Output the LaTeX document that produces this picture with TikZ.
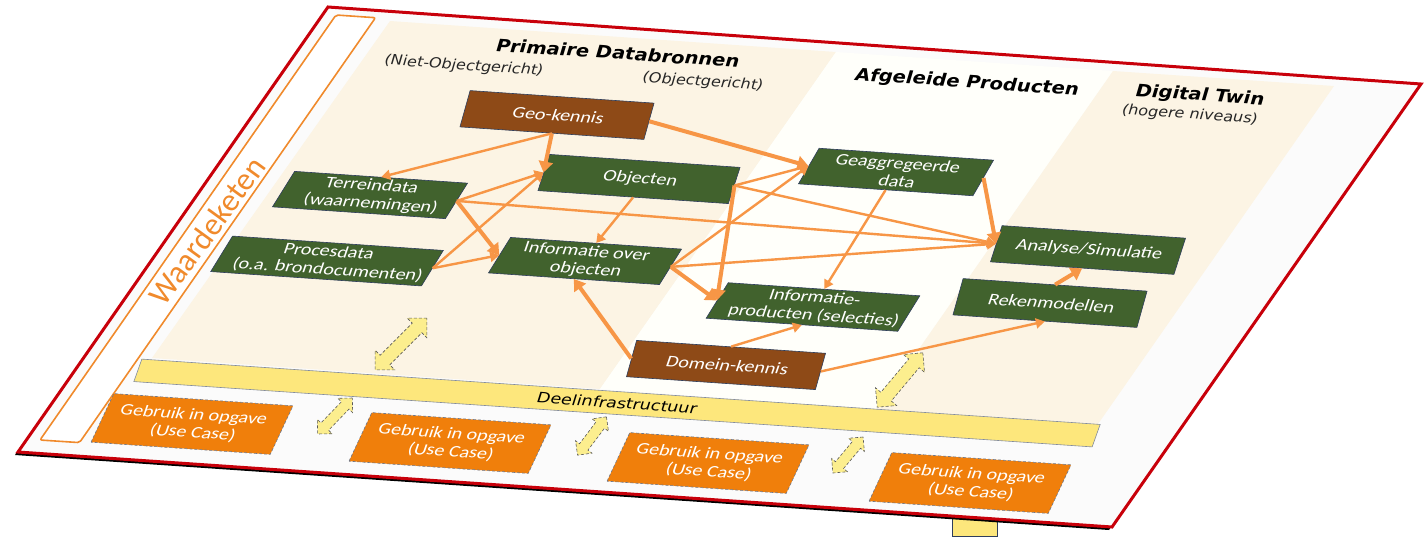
\documentclass[tikz,border=0pt]{standalone}
\usepackage{fontspec}
\setmainfont{Carlito}[ItalicFont=Carlito, ItalicFeatures={FakeSlant=0.22}]
\newfontfamily\kopfont{DejaVu Sans}
\usetikzlibrary{shapes.geometric,shapes.arrows,arrows.meta}

\definecolor{groen}{HTML}{41622D}
\definecolor{bruin}{HTML}{8E4A17}
\definecolor{oranje}{HTML}{F07F0B}
\definecolor{pijlkleur}{HTML}{F79646}
\definecolor{geel}{HTML}{FDE77C}
\definecolor{lichtgeel}{HTML}{FCEE8E}
\definecolor{beige}{HTML}{FCF4E4}
\definecolor{rand}{HTML}{2F3E5C}
\definecolor{rood}{HTML}{C8000A}
\definecolor{ketenkleur}{HTML}{F08A2C}

\tikzset{
  vlak/.style={trapezium, trapezium left angle=64.5, trapezium right angle=115.5,
    trapezium stretches body, rotate=-3.9, yscale=0.82, align=center},
  blok/.style={vlak, draw=rand, line width=0.6pt, text=white, inner sep=1pt,
    minimum height=45pt, font=\fontsize{20}{22}\selectfont\itshape},
  groenblok/.style={blok, fill=groen},
  bruinblok/.style={blok, fill=bruin},
  usecase/.style={blok, fill=oranje, draw=rand!70, densely dashed,
    minimum height=61pt, minimum width=199pt},
  kop/.style={rotate=-3.9, yscale=0.88, inner sep=0pt,
    font=\kopfont\fontsize{19.5}{22}\selectfont\bfseries\itshape},
  subkop/.style={rotate=-3.9, yscale=0.88, inner sep=0pt, text=black!85,
    font=\kopfont\fontsize{16}{18}\selectfont\itshape},
  dubbel/.style={double arrow, fill=lichtgeel, draw=gray!70!black, densely dashed,
    line width=0.6pt, inner sep=6.5pt, double arrow head extend=7pt,
    double arrow head indent=0pt},
  pijl/.style={color=pijlkleur, line width=2.4pt, -{Triangle[length=9pt,width=10pt]}},
  dikpijl/.style={pijl, line width=4pt, -{Triangle[length=11pt,width=14pt]}}
}

\begin{document}
\begin{tikzpicture}[x=1pt, y=-1pt]
\useasboundingbox (0,0) rectangle (1424,536);

% voet en plaat
\draw[fill=geel, draw=rand, line width=1pt] (952,518) rectangle (997,536);
\fill[black] (325,10) -- (1418,87) -- (1109,530) -- (15,455) -- cycle;
\draw[fill=white!97!gray, draw=rood, line width=3pt, line join=miter]
  (328,7) -- (1421,84) -- (1112,527) -- (18,452) -- cycle;

% kolommen
\fill[beige] (390,21) -- (836,52) -- (600,389) -- (152,358) -- cycle;
\fill[white!98!yellow] (836,52) -- (1113,71) -- (877,409) -- (600,389) -- cycle;
\fill[beige] (1113,71) -- (1334,86) -- (1098,424) -- (877,409) -- cycle;

% waardeketen
\draw[fill=white, draw=ketenkleur, line width=1.6pt, rounded corners=2pt]
  (336,15) -- (375.5,17.7) -- (79.5,442.6) -- (40,440) -- cycle;
\node[rotate=54, text=ketenkleur, font=\fontsize{32}{32}\selectfont] (keten) at (207,231) {Waardeketen};

% koppen
\node[kop] (primair) at (618,53) {Primaire Databronnen};
\node[subkop] (nietobject) at (464,66) {(Niet-Objectgericht)};
\node[subkop] (object) at (703,82) {(Objectgericht)};
\node[kop] (afgeleid) at (967,83) {Afgeleide Producten};
\node[kop] (twin) at (1200,96) {Digital Twin};
\node[subkop] (niveaus) at (1190,115) {(hogere niveaus)};

% deelinfrastructuur
\node[vlak, fill=geel, draw=rand!60, line width=0.6pt, inner sep=0pt,
  minimum width=967pt, minimum height=28pt,
  font=\kopfont\fontsize{17.5}{18}\selectfont\itshape] (infra) at (617,403) {Deelinfrastructuur};

\node[dubbel, minimum height=73pt, rotate=45] (wissel1) at (401,344) {};
\node[dubbel, minimum height=71pt, rotate=50] (wissel2) at (900,380) {};
\node[dubbel, minimum height=50pt, rotate=46, inner sep=5pt, double arrow head extend=5pt] (wissel3) at (335,416) {};
\node[dubbel, minimum height=48pt, rotate=53, inner sep=5pt, double arrow head extend=5pt] (wissel4) at (592,436) {};
\node[dubbel, minimum height=47pt, rotate=50, inner sep=5pt, double arrow head extend=5pt] (wissel5) at (848,455) {};

% blokken
\node[bruinblok, minimum width=192pt] (geo) at (557,115) {Geo-kennis};
\node[groenblok, minimum width=200pt] (objecten) at (639,179) {Objecten};
\node[groenblok, minimum width=193pt] (terrein) at (370,195) {Terreindata\\(waarnemingen)};
\node[groenblok, minimum width=217pt] (proces) at (327,261) {Procesdata\\(o.a. brondocumenten)};
\node[groenblok, minimum width=191pt] (info) at (585,261) {Informatie over\\objecten};
\node[groenblok, minimum width=193pt] (geagg) at (896,172) {Geaggregeerde\\data};
\node[groenblok, minimum width=210pt] (infoprod) at (813,307) {Informatie-\\producten (selecties)};
\node[groenblok, minimum width=193pt] (analyse) at (1088,250) {Analyse/Simulatie};
\node[groenblok, minimum width=192pt] (reken) at (1050,303) {Rekenmodellen};
\node[bruinblok, minimum width=197pt] (domein) at (726,365) {Domein-kennis};

\node[usecase] (gebruik1) at (192,424) {Gebruik in opgave\\(Use Case)};
\node[usecase] (gebruik2) at (450,443) {Gebruik in opgave\\(Use Case)};
\node[usecase] (gebruik3) at (708,463) {Gebruik in opgave\\(Use Case)};
\node[usecase] (gebruik4) at (970,483) {Gebruik in opgave\\(Use Case)};

% pijlen
\path[pijl]
  (geo.bottom side) edge (terrein.top side)
  (terrein.right side) edge (objecten.left side)
  (terrein.right side) edge (analyse.left side)
  (proces.right side) edge (objecten.left side)
  (proces.right side) edge (info.left side)
  (objecten.bottom side) edge (info.top side)
  (objecten.right side) edge (geagg.left side)
  (objecten.right side) edge (analyse.left side)
  (info.right side) edge (geagg.left side)
  (info.right side) edge (analyse.left side)
  (geagg.bottom side) edge (infoprod.top side)
  (domein.top side) edge (infoprod.bottom side)
  (domein.right side) edge (reken.bottom side);

\path[dikpijl]
  (geo.bottom side) edge (objecten.left side)
  (geo.right side) edge (geagg.left side)
  (terrein.right side) edge (info.left side)
  (objecten.right side) edge (infoprod.left side)
  (info.right side) edge (infoprod.left side)
  (geagg.right side) edge (analyse.left side)
  (reken.top side) edge (analyse.bottom side)
  (domein.left side) edge (info.bottom side);

\end{tikzpicture}
\end{document}
